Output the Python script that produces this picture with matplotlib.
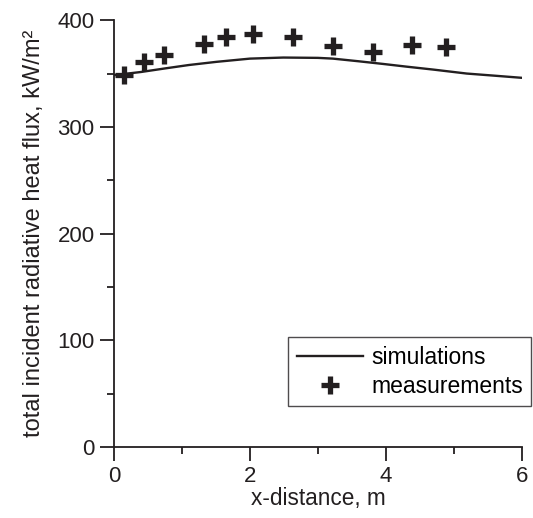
import numpy as np
import matplotlib
matplotlib.use("Agg")
import matplotlib.pyplot as plt
from matplotlib.ticker import MultipleLocator

plt.rcParams['font.family'] = ['Liberation Sans', 'DejaVu Sans']

# simulation curve
sim_x = [0.0, 0.4, 0.77, 1.1, 1.51, 2.0, 2.49, 3.0, 3.22, 3.6, 3.96, 4.3, 4.7, 5.19, 5.6, 6.0]
sim_y = [348.5, 351.5, 355, 358, 361, 364, 365, 364.7, 364, 361.5, 359, 356.5, 353.7, 350, 348, 346]

# measurements
meas_x = [0.15, 0.44, 0.74, 1.32, 1.65, 2.05, 2.64, 3.22, 3.81, 4.39, 4.89]
meas_y = [349, 361, 367, 378, 384, 387.5, 384, 376, 370, 376.5, 375]

fig = plt.figure(figsize=(5.33, 5.18), dpi=100)
ax = fig.add_axes([0.214, 0.137, 0.765, 0.824])

ax.plot(sim_x, sim_y, color='#231f20', lw=1.7, label='simulations')
ax.plot(meas_x, meas_y, ls='none', marker='+', ms=12.5, mew=3.8, color='#231f20', label='measurements')

ax.set_xlim(0, 6)
ax.set_ylim(0, 400)
ax.spines['top'].set_visible(False)
ax.spines['right'].set_visible(False)
for s in ['left', 'bottom']:
    ax.spines[s].set_linewidth(1.3)
    ax.spines[s].set_color('#231f20')

ax.xaxis.set_major_locator(MultipleLocator(2))
ax.xaxis.set_minor_locator(MultipleLocator(1))
ax.yaxis.set_major_locator(MultipleLocator(100))
ax.yaxis.set_minor_locator(MultipleLocator(50))
ax.tick_params(which='major', direction='out', length=10, width=1.3, pad=4, labelsize=16,
               color='#231f20', labelcolor='#231f20')
ax.tick_params(which='minor', direction='out', length=5, width=1.3, color='#231f20')

ax.set_xlabel('x-distance, m', fontsize=16.3, color='#231f20', labelpad=0)
ax.set_ylabel('total incident radiative heat flux, kW/m²', fontsize=17, color='#231f20', labelpad=9)

leg = ax.legend(loc='upper left', bbox_to_anchor=(0.540, 0.349), bbox_transform=fig.transFigure,
                borderaxespad=0, fontsize=16.5, frameon=True, fancybox=False, handlelength=2.9,
                handletextpad=0.35, labelspacing=0.25, borderpad=0.38)
leg.get_frame().set_edgecolor('#231f20')
leg.get_frame().set_linewidth(1.0)

fig.savefig('out.png', dpi=100)
